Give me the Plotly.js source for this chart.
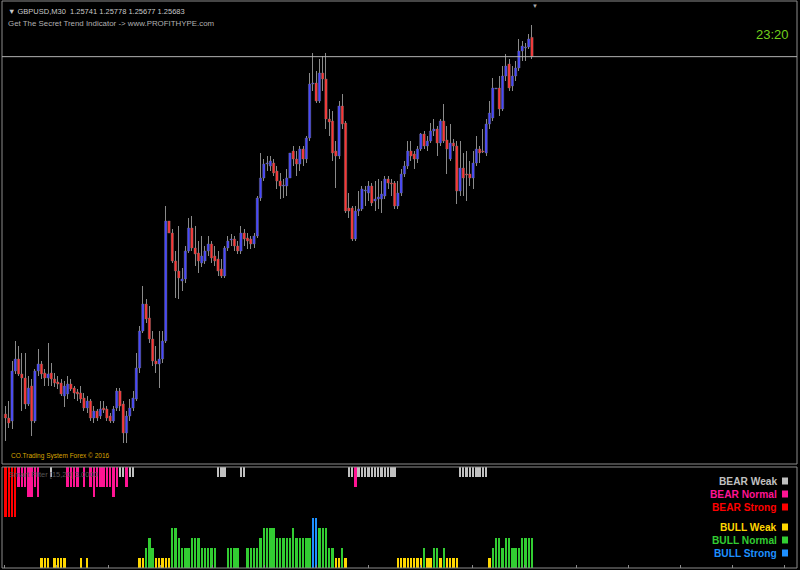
<!DOCTYPE html>
<html><head><meta charset="utf-8">
<script src="https://cdn.plot.ly/plotly-3.0.1.min.js"></script>
<style>html,body{margin:0;padding:0;background:#000;}#chart{width:800px;height:570px;}</style>
</head><body><div id="chart"></div>
<script>
const symbol = 'GBPUSD,M30';
const clockText = '23:20';
const promoText = 'Get The Secret Trend Indicator -> www.PROFITHYPE.com';
const copyrightText = 'CO.Trading System Forex \u00a9 2016';
const indicatorName = 'Smart Filter [15,20] 3.0000';

const open = [
1.24611,1.24599,1.24590,1.24740,1.24776,1.24731,1.24719,1.24641,1.24695,1.24590,
1.24740,1.24761,1.24734,1.24719,1.24734,1.24716,1.24707,1.24704,1.24665,1.24671,
1.24701,1.24689,1.24677,1.24674,1.24659,1.24629,1.24650,1.24599,1.24620,1.24605,
1.24629,1.24626,1.24605,1.24590,1.24629,1.24680,1.24641,1.24554,1.24605,1.24629,
1.24656,1.24749,1.24860,1.24941,1.24899,1.24836,1.24770,1.24761,1.24776,1.24830,
1.25190,1.25154,1.25070,1.25040,1.25010,1.25016,1.25100,1.25169,1.25109,1.25094,
1.25064,1.25070,1.25100,1.25121,1.25085,1.25076,1.25046,1.25025,1.25109,1.25133,
1.25136,1.25115,1.25100,1.25154,1.25139,1.25136,1.25121,1.25145,1.25259,1.25319,
1.25361,1.25355,1.25364,1.25340,1.25310,1.25295,1.25295,1.25319,1.25400,1.25376,
1.25361,1.25406,1.25376,1.25439,1.25601,1.25604,1.25550,1.25634,1.25616,1.25496,
1.25490,1.25400,1.25385,1.25535,1.25484,1.25229,1.25229,1.25136,1.25220,1.25226,
1.25280,1.25274,1.25295,1.25250,1.25256,1.25256,1.25265,1.25316,1.25304,1.25304,
1.25235,1.25274,1.25331,1.25355,1.25400,1.25391,1.25376,1.25406,1.25451,1.25415,
1.25430,1.25460,1.25466,1.25424,1.25490,1.25433,1.25376,1.25424,1.25415,1.25280,
1.25349,1.25331,1.25331,1.25319,1.25364,1.25406,1.25400,1.25394,1.25481,1.25499,
1.25586,1.25589,1.25526,1.25625,1.25661,1.25595,1.25625,1.25649,1.25700,1.25709,
1.25712,1.25741];
const high = [
1.24635,1.24650,1.24770,1.24830,1.24815,1.24794,1.24794,1.24725,1.24716,1.24746,
1.24806,1.24770,1.24746,1.24824,1.24764,1.24734,1.24725,1.24716,1.24710,1.24725,
1.24716,1.24695,1.24686,1.24695,1.24674,1.24665,1.24656,1.24635,1.24626,1.24650,
1.24650,1.24635,1.24614,1.24635,1.24689,1.24689,1.24650,1.24620,1.24656,1.24680,
1.24794,1.24875,1.24995,1.24956,1.24935,1.24860,1.24815,1.24860,1.24860,1.25235,
1.25235,1.25166,1.25100,1.25175,1.25049,1.25115,1.25199,1.25205,1.25175,1.25130,
1.25145,1.25115,1.25145,1.25130,1.25115,1.25100,1.25076,1.25115,1.25145,1.25151,
1.25145,1.25130,1.25175,1.25166,1.25154,1.25145,1.25154,1.25265,1.25394,1.25376,
1.25385,1.25385,1.25376,1.25355,1.25334,1.25316,1.25346,1.25415,1.25415,1.25400,
1.25415,1.25415,1.25445,1.25634,1.25694,1.25640,1.25676,1.25685,1.25694,1.25526,
1.25520,1.25430,1.25550,1.25571,1.25490,1.25274,1.25235,1.25235,1.25280,1.25295,
1.25295,1.25310,1.25304,1.25310,1.25316,1.25310,1.25325,1.25325,1.25316,1.25310,
1.25310,1.25346,1.25370,1.25430,1.25430,1.25400,1.25415,1.25454,1.25460,1.25445,
1.25484,1.25496,1.25475,1.25496,1.25541,1.25475,1.25481,1.25436,1.25430,1.25430,
1.25394,1.25400,1.25370,1.25400,1.25445,1.25415,1.25466,1.25496,1.25550,1.25619,
1.25616,1.25625,1.25655,1.25691,1.25676,1.25655,1.25670,1.25736,1.25730,1.25724,
1.25751,1.25778];
const low = [
1.24530,1.24569,1.24566,1.24731,1.24725,1.24620,1.24626,1.24635,1.24545,1.24584,
1.24725,1.24716,1.24695,1.24695,1.24695,1.24692,1.24686,1.24665,1.24632,1.24656,
1.24680,1.24656,1.24650,1.24644,1.24620,1.24614,1.24590,1.24584,1.24590,1.24596,
1.24614,1.24590,1.24584,1.24584,1.24620,1.24620,1.24524,1.24524,1.24590,1.24620,
1.24650,1.24734,1.24854,1.24884,1.24824,1.24755,1.24734,1.24689,1.24764,1.24824,
1.25142,1.25064,1.24959,1.24956,1.24980,1.25004,1.25094,1.25100,1.25055,1.25034,
1.25052,1.25061,1.25085,1.25064,1.25055,1.25025,1.25019,1.25019,1.25100,1.25115,
1.25100,1.25091,1.25091,1.25115,1.25106,1.25106,1.25109,1.25139,1.25250,1.25310,
1.25340,1.25340,1.25325,1.25286,1.25256,1.25259,1.25265,1.25310,1.25355,1.25325,
1.25340,1.25355,1.25364,1.25430,1.25580,1.25544,1.25544,1.25580,1.25466,1.25445,
1.25370,1.25289,1.25376,1.25466,1.25214,1.25199,1.25130,1.25130,1.25205,1.25220,
1.25235,1.25250,1.25235,1.25220,1.25226,1.25214,1.25256,1.25286,1.25265,1.25226,
1.25226,1.25265,1.25322,1.25346,1.25370,1.25346,1.25364,1.25400,1.25406,1.25400,
1.25424,1.25445,1.25385,1.25415,1.25424,1.25331,1.25370,1.25400,1.25241,1.25265,
1.25265,1.25250,1.25295,1.25286,1.25355,1.25364,1.25394,1.25385,1.25466,1.25490,
1.25550,1.25505,1.25520,1.25610,1.25580,1.25580,1.25610,1.25640,1.25670,1.25670,
1.25706,1.25677];
const close = [
1.24599,1.24584,1.24740,1.24776,1.24731,1.24719,1.24641,1.24689,1.24590,1.24740,
1.24761,1.24731,1.24719,1.24731,1.24716,1.24704,1.24701,1.24671,1.24695,1.24701,
1.24686,1.24674,1.24671,1.24656,1.24629,1.24650,1.24599,1.24620,1.24599,1.24626,
1.24623,1.24599,1.24590,1.24626,1.24680,1.24635,1.24554,1.24605,1.24629,1.24659,
1.24749,1.24860,1.24941,1.24896,1.24836,1.24770,1.24761,1.24776,1.24830,1.25190,
1.25154,1.25070,1.25040,1.25019,1.25016,1.25100,1.25169,1.25109,1.25091,1.25070,
1.25085,1.25100,1.25121,1.25079,1.25070,1.25040,1.25025,1.25109,1.25130,1.25136,
1.25115,1.25100,1.25154,1.25136,1.25130,1.25121,1.25145,1.25259,1.25319,1.25361,
1.25364,1.25370,1.25334,1.25310,1.25295,1.25298,1.25319,1.25394,1.25376,1.25361,
1.25406,1.25376,1.25439,1.25601,1.25604,1.25550,1.25634,1.25616,1.25496,1.25487,
1.25394,1.25385,1.25535,1.25481,1.25220,1.25220,1.25136,1.25220,1.25226,1.25286,
1.25283,1.25295,1.25244,1.25256,1.25262,1.25271,1.25316,1.25304,1.25301,1.25235,
1.25274,1.25331,1.25355,1.25400,1.25385,1.25376,1.25406,1.25451,1.25415,1.25430,
1.25460,1.25466,1.25424,1.25490,1.25430,1.25406,1.25424,1.25415,1.25280,1.25349,
1.25319,1.25328,1.25319,1.25364,1.25406,1.25394,1.25397,1.25481,1.25514,1.25589,
1.25589,1.25526,1.25625,1.25655,1.25589,1.25625,1.25649,1.25700,1.25715,1.25712,
1.25736,1.25683];

// Smart Filter histogram: 0 none, 1 weak, 2-4 normal, 5 strong
const bearLevel = [
5,5,5,5,2,2,2,3,3,2, 3,0,0,0,1,0,0,0,0,2, 2,2,2,0,2,0,2,3,2,2, 2,2,2,3,2,1,1,2,1,1,
0,0,0,0,0,0,0,0,0,0, 0,0,0,0,0,0,0,0,0,0, 0,0,0,0,0,1,1,1,0,0, 0,0,1,1,0,0,0,0,0,0,
0,0,0,0,0,0,0,0,0,0, 0,0,0,0,0,0,0,0,0,0, 0,0,0,0,0,1,1,2,1,1, 1,1,1,1,1,1,1,1,1,1,
0,0,0,0,0,0,0,0,0,0, 0,0,0,0,0,0,0,0,0,1, 1,1,1,1,1,1,1,1,0,0, 0,0,0,0,0,0,0,0,0,0,
0,0];
const bullLevel = [
0,0,0,0,0,0,0,0,0,0, 0,1,1,1,0,1,1,1,1,0, 0,0,0,1,0,1,0,0,0,0, 0,0,0,0,0,0,0,0,0,0,
0,1,1,2,3,2,1,1,1,1, 1,4,4,3,2,2,2,3,3,3, 2,2,2,2,2,0,0,0,2,2, 2,2,0,0,2,2,2,2,3,4,
4,4,4,3,3,3,3,3,4,3, 3,3,3,3,5,5,4,4,4,2, 2,1,1,2,1,0,0,0,0,0, 0,0,0,0,0,0,0,0,0,0,
1,1,1,1,1,1,1,1,2,1, 1,2,2,1,2,1,1,1,1,0, 0,0,0,0,0,0,0,0,1,2, 3,3,2,3,3,2,2,2,3,3,
3,3];

const legendLabels = ['BEAR Weak','BEAR Normal','BEAR Strong','BULL Weak','BULL Normal','BULL Strong'];
const legendColors = ['#C0C0C0','#FF1493','#FF0000','#FFD700','#32CD32','#1E90FF'];

// ---- layout geometry (pixels) ----
const ML = 2, MR = 3, MT = 1, MB = 2, W = 800, H = 570;
const PW = W - ML - MR, PH = H - MT - MB;
const pxX = x => (x - ML) / PW;
const pxY = y => (H - MB - y) / PH;
const mainBottomPx = 464, indTopPx = 467;
const mainDomain = [pxY(mainBottomPx), 1];
const indDomain = [0, pxY(indTopPx)];
const barSpacing = 3.27, firstBarPx = 5.5;
const xRange = [(ML - firstBarPx) / barSpacing, (W - MR - firstBarPx) / barSpacing];
const pricePerPx = 0.00003;
const priceTop = 1.25850, priceBottom = priceTop - (mainBottomPx - MT) * pricePerPx;
const indMax = (H - MB - indTopPx) / 10; // 10 px per unit

const idx = open.map((_, i) => i);
const n = open.length;
const last = n - 1;

function levelColor(kind, v) {
  const base = kind === 'bear' ? 0 : 3;
  if (v >= 5) return legendColors[base + 2];
  if (v >= 2) return legendColors[base + 1];
  return legendColors[base];
}

const bullBody = '#4646ff', bearBody = '#ff3434', wickColor = '#8a8a8a';
const wicks = {
  type: 'bar', x: idx, base: low, y: high.map((h, i) => h - low[i]), width: 0.3,
  marker: {color: wickColor, line: {width: 0}}, xaxis: 'x', yaxis: 'y', hoverinfo: 'skip', showlegend: false
};
const bodies = {
  type: 'bar', x: idx, base: open.map((o, i) => Math.min(o, close[i])),
  y: open.map((o, i) => Math.max(Math.abs(close[i] - o), pricePerPx)), width: 0.72,
  marker: {color: open.map((o, i) => close[i] > o ? bullBody : (close[i] < o ? bearBody : wickColor)),
           line: {color: '#7a7a7a', width: 0.4}},
  xaxis: 'x', yaxis: 'y', hoverinfo: 'skip', showlegend: false
};

const bearIdx = [], bearLen = [], bearCol = [];
bearLevel.forEach((v, i) => { if (v > 0) { bearIdx.push(i); bearLen.push(-v); bearCol.push(levelColor('bear', v)); } });
const bullIdx = [], bullLen = [], bullCol = [];
bullLevel.forEach((v, i) => { if (v > 0) { bullIdx.push(i); bullLen.push(v); bullCol.push(levelColor('bull', v)); } });

const bearBars = {
  type: 'bar', x: bearIdx, y: bearLen, base: indMax, width: 0.72,
  marker: {color: bearCol, line: {width: 0}}, xaxis: 'x2', yaxis: 'y2', hoverinfo: 'skip', showlegend: false
};
const bullBars = {
  type: 'bar', x: bullIdx, y: bullLen, base: 0, width: 0.72,
  marker: {color: bullCol, line: {width: 0}}, xaxis: 'x2', yaxis: 'y2', hoverinfo: 'skip', showlegend: false
};

const frameColor = '#8c8c8c';
const shapes = [
  {type: 'rect', xref: 'paper', yref: 'paper', x0: 0, x1: 1, y0: mainDomain[0], y1: 1, line: {color: frameColor, width: 1}},
  {type: 'rect', xref: 'paper', yref: 'paper', x0: 0, x1: 1, y0: 0, y1: indDomain[1], line: {color: frameColor, width: 1}},
  {type: 'line', xref: 'paper', yref: 'y', x0: 0, x1: 1, y0: close[last], y1: close[last], line: {color: '#b4b4b4', width: 1}}
];

const fontFam = '"Liberation Sans", Arial, sans-serif';
const annotations = [
  {xref: 'paper', yref: 'paper', x: pxX(6), y: pxY(11), xanchor: 'left', yanchor: 'middle', showarrow: false,
   text: '\u25BC ' + symbol + '  ' + [open[last], high[last], low[last], close[last]].map(v => v.toFixed(5)).join(' '),
   font: {family: fontFam, size: 7.5, color: '#c8c8c8'}},
  {xref: 'paper', yref: 'paper', x: pxX(6), y: pxY(23), xanchor: 'left', yanchor: 'middle', showarrow: false,
   text: promoText, font: {family: fontFam, size: 7.9, color: '#b0b0b0'}},
  {xref: 'paper', yref: 'paper', x: pxX(791), y: pxY(34), xanchor: 'right', yanchor: 'middle', showarrow: false,
   text: clockText, font: {family: fontFam, size: 13, color: '#72d01c'}},
  {xref: 'paper', yref: 'paper', x: pxX(9), y: pxY(456), xanchor: 'left', yanchor: 'middle', showarrow: false,
   text: copyrightText, font: {family: fontFam, size: 6.5, color: '#d9a400'}},
  {xref: 'paper', yref: 'paper', x: pxX(7), y: pxY(474), xanchor: 'left', yanchor: 'middle', showarrow: false,
   text: indicatorName, font: {family: fontFam, size: 7.5, color: '#555555'}},
  {xref: 'paper', yref: 'paper', x: pxX(535), y: pxY(6), xanchor: 'center', yanchor: 'middle', showarrow: false,
   text: '\u25BC', font: {family: fontFam, size: 6, color: '#aaaaaa'}}
];
const legendY = [481, 494, 507, 527, 540, 553];
legendLabels.forEach((lab, i) => {
  annotations.push({xref: 'paper', yref: 'paper', x: pxX(779), y: pxY(legendY[i]), xanchor: 'right', yanchor: 'middle',
    showarrow: false, text: '<b>' + lab + '</b>', font: {family: fontFam, size: 10.2, color: legendColors[i]}});
  shapes.push({type: 'rect', xref: 'paper', yref: 'paper', x0: pxX(782), x1: pxX(788), y0: pxY(legendY[i] + 3.5), y1: pxY(legendY[i] - 3.5),
    fillcolor: legendColors[i], line: {width: 0}});
});

const layout = {
  width: W, height: H, margin: {l: ML, r: MR, t: MT, b: MB, pad: 0},
  paper_bgcolor: '#000', plot_bgcolor: '#000', showlegend: false, dragmode: false,
  barmode: 'overlay', bargap: 0,
  xaxis: {domain: [0, 1], range: xRange, anchor: 'y', showgrid: false, zeroline: false, showticklabels: false,
          ticks: '', showline: false, fixedrange: true},
  yaxis: {domain: mainDomain, range: [priceBottom, priceTop], showgrid: false, zeroline: false, showticklabels: false,
          ticks: '', showline: false, fixedrange: true},
  xaxis2: {domain: [0, 1], range: xRange, anchor: 'y2', matches: 'x', showgrid: false, zeroline: false,
           showticklabels: false, ticks: 'inside', ticklen: 3, tickcolor: frameColor, tickwidth: 1,
           tickmode: 'linear', tick0: (4 - firstBarPx) / barSpacing, dtick: 52 / barSpacing, showline: false, fixedrange: true},
  yaxis2: {domain: indDomain, range: [0, indMax], showgrid: false, zeroline: false, showticklabels: false,
           ticks: '', showline: false, fixedrange: true},
  shapes: shapes, annotations: annotations
};

Plotly.newPlot('chart', [wicks, bodies, bearBars, bullBars], layout, {staticPlot: true, displayModeBar: false});
</script></body></html>
